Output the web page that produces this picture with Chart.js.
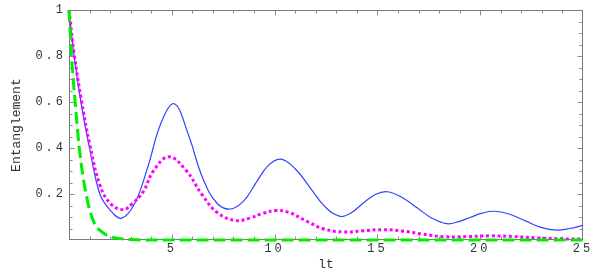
<!DOCTYPE html>
<html><head><meta charset="utf-8">
<script src="https://cdn.jsdelivr.net/npm/chart.js@4/dist/chart.umd.min.js"></script>
<style>html,body{margin:0;padding:0;background:#fff;overflow:hidden}</style>
</head><body>
<canvas id="c" width="599" height="273"></canvas>
<script>
// Series (x = lt, y = entanglement)
const blueX = [0, 0.25, 0.58, 1.0, 1.5, 2.0, 2.56, 3.2, 3.84, 4.48, 5.12, 5.8, 6.5, 7.2, 7.86, 8.5, 9.1, 9.7, 10.3, 11.0, 11.75, 12.45, 13.18, 13.75, 14.3, 14.9, 15.48, 16.2, 16.93, 17.65, 18.37, 18.95, 19.5, 20.1, 20.67, 21.4, 22.2, 22.95, 23.72, 24.35, 25];
const blueY = [1.0, 0.8, 0.6, 0.4, 0.2, 0.13, 0.095, 0.16, 0.32, 0.51, 0.593, 0.46, 0.27, 0.16, 0.135, 0.17, 0.25, 0.325, 0.352, 0.31, 0.225, 0.145, 0.103, 0.12, 0.16, 0.198, 0.21, 0.185, 0.14, 0.095, 0.071, 0.08, 0.098, 0.117, 0.125, 0.113, 0.083, 0.055, 0.043, 0.05, 0.064];

const magentaX = [0, 0.25, 0.6, 1.0, 1.5, 2.0, 2.64, 3.1, 3.61, 4.1, 4.86, 5.72, 6.45, 7.2, 8.07, 8.8, 9.4, 10.07, 10.7, 11.6, 12.4, 13.34, 14.3, 15.28, 16.3, 17.15, 18.3, 19.4, 20.5, 21.6, 22.8, 24, 25];
const magentaY = [1.0, 0.81, 0.61, 0.42, 0.24, 0.16, 0.132, 0.16, 0.21, 0.3, 0.362, 0.3, 0.2, 0.12, 0.085, 0.095, 0.115, 0.128, 0.12, 0.08, 0.048, 0.035, 0.04, 0.045, 0.038, 0.026, 0.014, 0.015, 0.018, 0.015, 0.009, 0.005, 0.004];

const greenX = [0, 0.12, 0.3, 0.5, 0.83, 1.2, 1.6, 2.0, 2.5, 3.0, 4.0, 25];
const greenY = [1.0, 0.8, 0.6, 0.4, 0.2, 0.08, 0.035, 0.015, 0.006, 0.002, 0, 0];

const xTickValues = [5, 10, 15, 20, 25];
const xTickLabels = ['5', '10', '15', '20', '25'];
const yTickValues = [0.2, 0.4, 0.6, 0.8, 1];
const yTickLabels = ['0.2', '0.4', '0.6', '0.8', '1'];
const xTitle = 'lt';
const yTitle = 'Entanglement';

const pts = (xs, ys) => xs.map((x, i) => ({x, y: ys[i]}));

const FONT = "'Liberation Mono', 'DejaVu Sans Mono', monospace";

const framePlugin = {
  id: 'frame',
  beforeDraw(chart) { chart.ctx.letterSpacing = '3px'; },
  beforeDatasetsDraw(chart) {
    const {ctx, chartArea: a, scales: {x, y}} = chart;
    ctx.save();
    ctx.strokeStyle = '#7a7a7a';
    ctx.lineWidth = 1;
    const L = Math.round(a.left) + 0.5, R = Math.round(a.right) - 0.5;
    const T = Math.round(a.top) + 0.5, B = Math.round(a.bottom) - 0.5;
    ctx.strokeRect(L, T, R - L, B - T);
    ctx.strokeStyle = '#8a8a8a';
    ctx.beginPath();
    for (let v = 1; v < 25; v++) {
      const px = Math.round(x.getPixelForValue(v)) + 0.5;
      const len = v % 5 === 0 ? 5 : 3;
      ctx.moveTo(px, B); ctx.lineTo(px, B - len);
      ctx.moveTo(px, T); ctx.lineTo(px, T + len);
    }
    for (let k = 1; k < 20; k++) {
      const v = k * 0.05;
      const py = Math.round(y.getPixelForValue(v)) + 0.5;
      const len = k % 4 === 0 ? 5 : 3;
      ctx.moveTo(L, py); ctx.lineTo(L + len, py);
      ctx.moveTo(R, py); ctx.lineTo(R - len, py);
    }
    ctx.stroke();
    ctx.restore();
  },
  afterDraw(chart) {
    const {ctx, chartArea: a} = chart;
    ctx.save();
    ctx.letterSpacing = '0px';
    ctx.fillStyle = '#333';
    ctx.font = "13px " + FONT;
    ctx.textAlign = 'center';
    ctx.textBaseline = 'middle';
    ctx.fillText(xTitle, (a.left + a.right) / 2, 265);
    ctx.translate(17, (a.top + a.bottom) / 2);
    ctx.rotate(-Math.PI / 2);
    ctx.fillText(yTitle, 0, 0);
    ctx.restore();
  }
};

new Chart(document.getElementById('c'), {
  type: 'line',
  data: {
    datasets: [
      {data: pts(greenX, greenY), borderColor: '#00ee00', borderWidth: 3, borderDash: [12, 5], pointRadius: 0, cubicInterpolationMode: 'monotone', clip: false},
      {data: pts(magentaX, magentaY), borderColor: '#ff00ff', borderWidth: 3, borderDash: [3, 2.7], pointRadius: 0, tension: 0.4, clip: false},
      {data: pts(blueX, blueY), borderColor: '#2f44ff', borderWidth: 1.2, pointRadius: 0, tension: 0.4, clip: false}
    ]
  },
  options: {
    responsive: false,
    animation: false,
    devicePixelRatio: 1,
    layout: {padding: {left: 0, right: 16, top: 5, bottom: 0}},
    plugins: {legend: {display: false}, tooltip: {enabled: false}},
    scales: {
      x: {
        type: 'linear', min: 0, max: 25,
        grid: {display: false, drawTicks: false}, border: {display: false},
        afterBuildTicks: s => { s.ticks = xTickValues.map(v => ({value: v})); },
        afterFit: s => { s.height = 33; },
        ticks: {
          autoSkip: false, maxRotation: 0, padding: 2, color: '#333',
          font: {family: FONT, size: 12},
          callback: v => { const i = xTickValues.indexOf(v); return i < 0 ? '' : xTickLabels[i]; }
        }
      },
      y: {
        type: 'linear', min: 0, max: 1,
        grid: {display: false, drawTicks: false}, border: {display: false},
        afterBuildTicks: s => { s.ticks = yTickValues.map(v => ({value: v})); },
        afterFit: s => { s.width = 69; },
        ticks: {
          autoSkip: false, padding: 3, color: '#333',
          font: {family: FONT, size: 12},
          callback: v => { const i = yTickValues.findIndex(t => Math.abs(t - v) < 1e-9); return i < 0 ? '' : yTickLabels[i]; }
        }
      }
    }
  },
  plugins: [framePlugin]
});
</script>
</body></html>
